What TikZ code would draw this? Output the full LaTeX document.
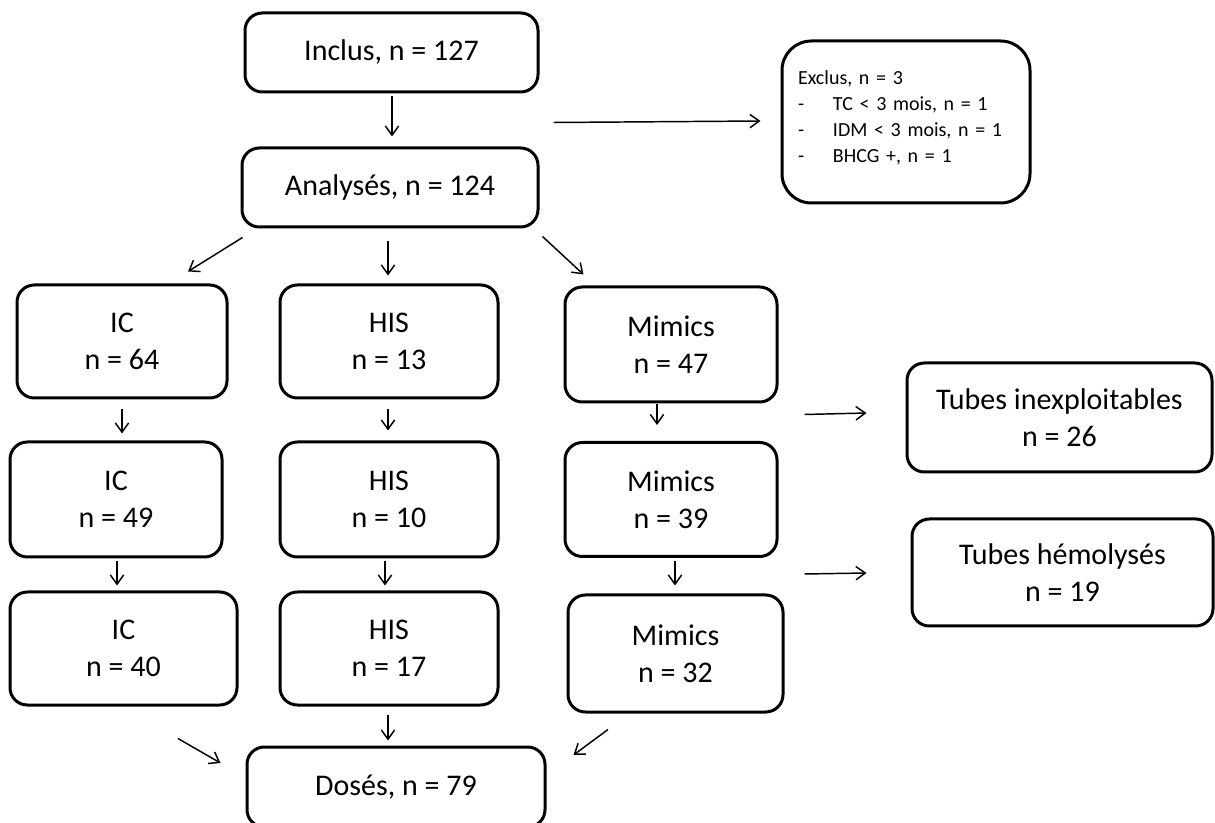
\documentclass[tikz,border=0pt]{standalone}
\usepackage{fontspec}
\setmainfont{Carlito}
\usetikzlibrary{arrows.meta,calc}
\newcommand{\mainsize}{\fontsize{22.5}{27.75}\selectfont}
\newcommand{\smallsize}{\fontsize{15}{19.3}\selectfont}
\newcommand{\dashitem}[1]{\makebox[26.25pt][l]{-}#1}
\tikzset{
  box/.style={draw, line width=2.25pt, rounded corners=13pt, inner sep=0pt, align=center, font=\mainsize},
  arr/.style={line width=1.1pt, -{Straight Barb[length=7pt,width=10pt,line width=1.1pt]}}
}
\begin{document}
\begin{tikzpicture}[x=0.75pt,y=-0.75pt]
\useasboundingbox (0,0) rectangle (1215,823);
\clip (0,0) rectangle (1215,823);
\fill[white] (0,0) rectangle (1215,823);

% nodes
\node[box, minimum width=219.75pt, minimum height=59.25pt] (inclus) at (391.5,52.5) {Inclus, n = 127};
\node[box, minimum width=222pt, minimum height=59.25pt] (analyses) at (390,187.5) {Analysés, n = 124};
\node[box, rounded corners=22pt, minimum width=186pt, minimum height=121.5pt, text width=162pt, inner xsep=12pt, align=left, font=\smallsize] (exclus) at (906,122)
  {Exclus, n = 3\\ \dashitem{TC < 3 mois, n = 1}\\ \dashitem{IDM < 3 mois, n = 1}\\ \dashitem{BHCG +, n = 1}\\[-11pt]\mbox{}};

\node[box, minimum width=157.5pt, minimum height=84.75pt] (ic1) at (122,341.5) {IC\\n = 64};
\node[box, minimum width=159pt, minimum height=86.25pt] (ic2) at (116,499.5) {IC\\n = 49};
\node[box, minimum width=170.25pt, minimum height=84.75pt] (ic3) at (123.5,648.5) {IC\\n = 40};

\node[box, minimum width=163.5pt, minimum height=84.75pt] (his1) at (389,341.5) {HIS\\n = 13};
\node[box, minimum width=163.5pt, minimum height=86.25pt] (his2) at (389,499.5) {HIS\\n = 10};
\node[box, minimum width=163.5pt, minimum height=84.75pt] (his3) at (389,648.5) {HIS\\n = 17};

\node[box, minimum width=159pt, minimum height=86.25pt] (mim1) at (671,344.5) {Mimics\\n = 47};
\node[box, minimum width=159pt, minimum height=85.5pt] (mim2) at (671,499.5) {Mimics\\n = 39};
\node[box, minimum width=161.25pt, minimum height=87.75pt] (mim3) at (675.5,653.5) {Mimics\\n = 32};

\node[box, minimum width=228.75pt, minimum height=81.75pt] (tubesA) at (1059.5,417.5) {Tubes inexploitables\\n = 26};
\node[box, minimum width=225.75pt, minimum height=80.25pt] (tubesB) at (1062.5,572.5) {Tubes hémolysés\\n = 19};

\node[box, minimum width=223.5pt, minimum height=60pt] (doses) at (396,787) {Dosés, n = 79};

% connectors
\draw[arr] ($(inclus.south)+(0.5,3)$) -- ($(analyses.north)+(2,-10)$);
\draw[arr] ($(inclus.south east)+(14,29)$) -- ($(exclus.west)+(-20,-1)$);

\draw[arr] ($(analyses.south west)+(2,9)$) -- ($(ic1.north)+(66,-12)$);
\draw[arr] ($(analyses.south)+(-2,13)$) -- ($(his1.north)+(-1,-8)$);
\draw[arr] ($(analyses.south east)+(3,8)$) -- ($(mim1.north west)+(20,-11)$);

\draw[arr] ($(ic1.south)+(0,10)$) -- ($(ic2.north)+(6,-7)$);
\draw[arr] ($(ic2.south)+(1,3)$) -- ($(ic3.north)+(-6.5,-5)$);

\draw[arr] ($(his1.south)+(-1,10)$) -- ($(his2.north)+(-1,-10)$);
\draw[arr] ($(his2.south)+(-4,3)$) -- ($(his3.north)+(-4,-5)$);
\draw[arr] ($(his3.south)+(-1,8)$) -- ($(doses.north)+(-8,-5)$);

\draw[arr] ($(mim1.south)+(-14,1)$) -- ($(mim2.north)+(-14,-16)$);
\draw[arr] ($(mim2.south)+(4,3)$) -- ($(mim3.north)+(-0.5,-8)$);

\draw[arr] ($(ic3.south)+(54.5,32)$) -- ($(doses.west)+(-25,-24)$);
\draw[arr] ($(mim3.south)+(-67.5,16)$) -- ($(doses.east)+(27,-32)$);

\draw[arr] ($(mim1.south east)+(26,11)$) -- ($(tubesA.west)+(-39,-4.5)$);
\draw[arr] ($(mim2.south east)+(26,16)$) -- ($(tubesB.west)+(-44,0.5)$);
\end{tikzpicture}
\end{document}
